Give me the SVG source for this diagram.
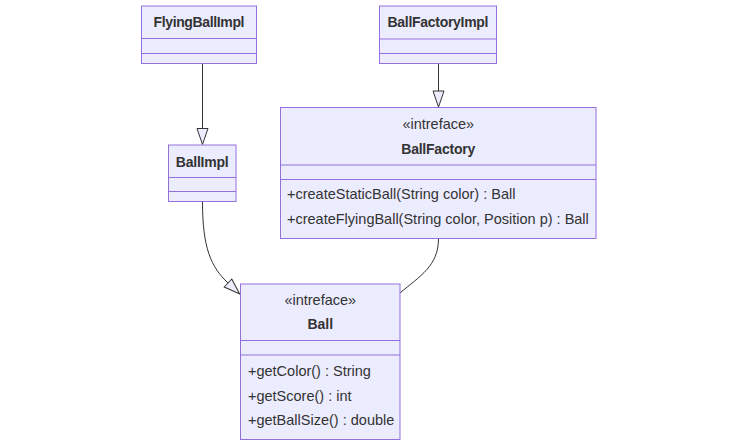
<svg xmlns="http://www.w3.org/2000/svg" width="745" height="447" viewBox="0 0 745 447">
<defs>
<style>
.box{fill:#ECECFF;stroke:#9370DB;stroke-width:1}
.div{stroke:#9370DB;stroke-width:1}
.t{font-family:"Liberation Sans",Arial,sans-serif;font-size:14.5px;fill:#333}
.b{font-weight:bold;text-anchor:middle;font-size:14px}
.c{text-anchor:middle}
.edge{fill:none;stroke:#333;stroke-width:1}
</style>
<marker id="ext" viewBox="0 0 18 14" refX="1" refY="7" markerWidth="18" markerHeight="14" markerUnits="userSpaceOnUse" orient="auto">
<path d="M1,1.5 L17,7 L1,12.5 Z" fill="#ECECFF" stroke="#333" stroke-width="1"/>
</marker>
</defs>
<rect width="745" height="447" fill="#fff"/>
<g id="connectors">
<path class="edge" d="M202.5,63.5 L202.5,128.5" marker-end="url(#ext)"/>
<path class="edge" d="M438.5,63.5 L438.5,91" marker-end="url(#ext)"/>
<path class="edge" d="M202.5,202 C202.5,248 211,267 228,283" marker-end="url(#ext)"/>
<path class="edge" d="M438.5,238.5 C438.5,266 420,276 400,293"/>
</g>
<g id="FlyingBallImpl">
<rect class="box" x="141.5" y="6" width="115" height="57.5"/>
<line class="div" x1="141.5" y1="38.5" x2="256.5" y2="38.5"/>
<line class="div" x1="141.5" y1="53.5" x2="256.5" y2="53.5"/>
<text class="t b" x="199" y="26.5" textLength="91">FlyingBallImpl</text>
</g>
<g id="BallFactoryImpl">
<rect class="box" x="379.5" y="6" width="117" height="57.5"/>
<line class="div" x1="379.5" y1="39" x2="496.5" y2="39"/>
<line class="div" x1="379.5" y1="53.5" x2="496.5" y2="53.5"/>
<text class="t b" x="438" y="27" textLength="101">BallFactoryImpl</text>
</g>
<g id="BallImpl">
<rect class="box" x="168.5" y="145" width="67.5" height="56.5"/>
<line class="div" x1="168.5" y1="177.5" x2="236" y2="177.5"/>
<line class="div" x1="168.5" y1="191.5" x2="236" y2="191.5"/>
<text class="t b" x="202.25" y="167" textLength="53">BallImpl</text>
</g>
<g id="BallFactory">
<rect class="box" x="280.5" y="107.5" width="315.5" height="131"/>
<line class="div" x1="280.5" y1="165" x2="596" y2="165"/>
<line class="div" x1="280.5" y1="179.5" x2="596" y2="179.5"/>
<text class="t c" x="438.25" y="129">«intreface»</text>
<text class="t b" x="438.25" y="154" textLength="74">BallFactory</text>
<text class="t" x="287" y="199">+createStaticBall(String color) : Ball</text>
<text class="t" x="287" y="224">+createFlyingBall(String color, Position p) : Ball</text>
</g>
<g id="Ball">
<rect class="box" x="240.5" y="284" width="159.5" height="155.5"/>
<line class="div" x1="240.5" y1="340.5" x2="400" y2="340.5"/>
<line class="div" x1="240.5" y1="355" x2="400" y2="355"/>
<text class="t c" x="320.25" y="305">«intreface»</text>
<text class="t b" x="320.25" y="329">Ball</text>
<text class="t" x="248" y="375.5">+getColor() : String</text>
<text class="t" x="248" y="400.5">+getScore() : int</text>
<text class="t" x="248" y="425">+getBallSize() : double</text>
</g>
</svg>
